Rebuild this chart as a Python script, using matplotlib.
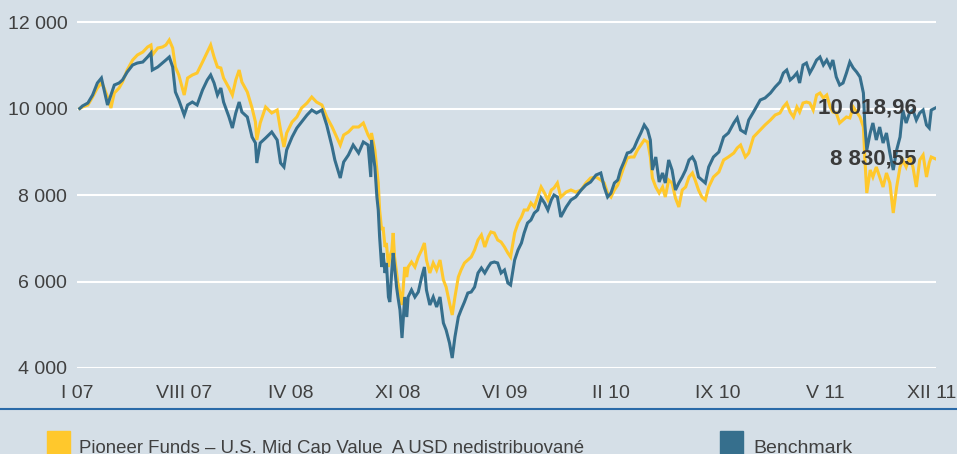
import numpy as np
import matplotlib
matplotlib.use("Agg")
import matplotlib.pyplot as plt
from matplotlib.patches import Rectangle

plt.rcParams['font.family'] = ['Liberation Sans', 'DejaVu Sans']

# trading day index (0 = start of Jan 2007, end = Dec 2011)
days = [0, 4, 12, 19, 26, 32, 36, 41, 46, 51, 58, 63, 70, 78, 85, 93, 100, 105, 107, 115,
        122, 127, 132, 137, 141, 146, 154, 159, 166, 173, 181, 188, 193, 198, 203, 208, 212, 220, 225, 230,
        235, 239, 247, 254, 259, 261, 266, 274, 283, 291, 296, 301, 305, 313, 320, 327, 335, 342, 349, 357,
        364, 372, 376, 384, 389, 396, 403, 411, 418, 425, 429,
        430, 435, 438, 440, 442, 445, 447, 450, 452, 455, 457, 460, 462, 464, 467, 469, 472, 475, 479, 482,
        484, 489, 494, 499, 504, 508, 511, 516, 521, 526, 531, 536, 540, 545, 549, 553, 558, 562, 567, 572,
        577, 582, 587, 592, 597, 602, 606, 611, 616, 621, 626, 631, 635, 641, 646, 651, 655, 660, 665, 670,
        675, 680, 685, 690, 695, 699, 704, 709,
        717, 724, 731, 739, 746, 753, 761, 768, 773, 778, 783, 788, 793, 797, 802, 807, 812, 817, 822, 827,
        832, 837, 841, 844, 849, 854, 859, 863, 868, 873, 878, 883, 888, 893, 898, 903, 907, 912, 917, 922,
        927, 934, 942, 949, 956, 964, 969, 974, 981, 986, 993,
        1003, 1010, 1018, 1025, 1032, 1037, 1042, 1047, 1052, 1057, 1061, 1066, 1071, 1076, 1081, 1086, 1091,
        1096, 1101, 1106, 1110, 1115, 1120, 1125, 1130, 1135, 1140, 1145, 1150, 1155, 1157, 1160, 1165, 1169,
        1174, 1179, 1184, 1189, 1194, 1199, 1204, 1209, 1213, 1218, 1223, 1228, 1233, 1238, 1243, 1248,
        1252, 1255, 1262]

fund = [10000, 10035, 10081, 10266, 10474, 10590, 10474, 10266, 10012, 10358,
        10474, 10613, 10890, 11121, 11237, 11306, 11422, 11468, 11237, 11399,
        11422, 11468, 11584, 11399, 10960, 10775, 10312, 10705, 10775, 10821,
        11075, 11306, 11468, 11191, 10960, 10937, 10705, 10474, 10312, 10659,
        10890, 10613, 10382, 10012, 9688, 9272, 9665, 10035, 9896, 9965,
        9503, 9110, 9434, 9688, 9804, 10012, 10127, 10266, 10150, 10081,
        9804, 9572, 9434, 9156, 9387, 9457, 9572, 9572, 9665, 9387, 9272,
        9434, 9041, 8578, 8278, 7653, 7191, 7260, 6798, 6890, 6335,
        6567, 6729, 7122, 6567, 6197, 5966, 5734, 5457, 6335, 6104,
        6335, 6451, 6335, 6567, 6729, 6890, 6497, 6197, 6428, 6266,
        6497, 6035, 5873, 5503, 5226, 5642, 6104, 6266, 6428, 6497,
        6567, 6729, 6960, 7075, 6798, 7029, 7145, 7122, 6960, 6913,
        6798, 6659, 6567, 7122, 7353, 7492, 7653, 7653, 7815, 7723,
        7954, 8185, 8046, 7885, 8116, 8162, 8278, 7954,
        8069, 8116, 8069, 8116, 8278, 8393, 8416, 8347, 8278, 8046,
        7954, 8116, 8231, 8416, 8648, 8856, 8879, 8879, 9041, 9156,
        9272, 9226, 8879, 8393, 8185, 8046, 8185, 7954, 8347, 8278,
        7931, 7723, 8116, 8185, 8416, 8509, 8347, 8116, 7954, 7885,
        8185, 8416, 8532, 8810, 8879, 8971, 9087, 9156, 8879, 8971, 9341,
        9503, 9619, 9734, 9850, 9896, 10035, 10127, 9919, 9804, 10035,
        9919, 10127, 10150, 10127, 9965, 10312, 10358, 10243, 10312, 10035,
        9919, 9896, 9665, 9734, 9804, 9781, 10035, 9919, 9804, 9572,
        8879, 8046, 8578, 8416, 8648, 8416, 8185, 8509, 8278, 7584,
        8185, 8648, 8810, 8648, 8879, 8648, 8185, 8810, 8925, 8416,
        8740, 8879, 8830.55]

bench = [10000, 10058, 10127, 10312, 10590, 10705, 10428, 10081, 10312, 10543,
         10590, 10659, 10844, 11006, 11052, 11075, 11191, 11283, 10890, 10960,
         11052, 11121, 11191, 10960, 10382, 10197, 9850, 10081, 10150, 10081,
         10428, 10659, 10775, 10590, 10312, 10474, 10150, 9804, 9549, 9896,
         10150, 9919, 9804, 9341, 9202, 8740, 9202, 9318, 9457, 9272,
         8740, 8648, 9041, 9341, 9549, 9688, 9850, 9965, 9896, 9965,
         9619, 9110, 8810, 8393, 8763, 8925, 9156, 8971, 9226, 9156, 8416,
         9272, 8648, 7954, 7653, 7029, 6335, 6659, 6197, 6428, 5642,
         5526, 6266, 6659, 6335, 5873, 5642, 5341, 4694, 5642, 5179,
         5642, 5804, 5642, 5758, 6104, 6335, 5804, 5457, 5642, 5411,
         5642, 5040, 4879, 4578, 4231, 4717, 5179, 5341, 5526, 5734,
         5758, 5873, 6197, 6312, 6197, 6335, 6428, 6451, 6428, 6197,
         6266, 5966, 5919, 6497, 6729, 6890, 7122, 7353, 7422, 7584,
         7653, 7931, 7815, 7653, 7885, 8000, 7954, 7492,
         7723, 7885, 7954, 8116, 8231, 8301, 8463, 8509, 8185, 7954,
         8046, 8278, 8347, 8578, 8763, 8971, 8995, 9087, 9272, 9434,
         9619, 9503, 9272, 8578, 8879, 8301, 8509, 8278, 8810, 8578,
         8116, 8278, 8416, 8578, 8810, 8879, 8763, 8416, 8347, 8278,
         8648, 8879, 8995, 9341, 9434, 9665, 9781, 9503, 9434, 9734, 9919,
         10197, 10243, 10358, 10497, 10613, 10821, 10890, 10659, 10729, 10821,
         10590, 11006, 11052, 10821, 10960, 11121, 11191, 11006, 11121, 10960,
         11121, 10729, 10543, 10590, 10821, 11075, 10937, 10844, 10729, 10358,
         9665, 9041, 9434, 9665, 9272, 9572, 9202, 9434, 8971, 8578,
         9041, 9341, 9965, 9665, 9896, 9965, 9734, 9896, 9965, 9619,
         9549, 9965, 10018.96]

tick_labels = ["I 07", "VIII 07", "IV 08", "XI 08", "VI 09", "II 10", "IX 10", "V 11", "XII 11"]
fund_name = "Pioneer Funds – U.S. Mid Cap Value  A USD nedistribuované"
bench_name = "Benchmark"

bg = "#d5dfe7"
yellow = "#ffc82c"
blue = "#366f8d"
txt = "#404040"

fig = plt.figure(figsize=(9.57, 4.54), dpi=100, facecolor=bg)
ax = fig.add_axes([77 / 957, 86 / 454, 859 / 957, 368 / 454])
ax.set_facecolor(bg)

ax.plot(days, fund, color=yellow, lw=2.2, solid_joinstyle='miter')
ax.plot(days, bench, color=blue, lw=2.2, solid_joinstyle='miter')

ax.set_xlim(0, days[-1])
ax.set_ylim(4000, 12509)
ax.set_yticks([4000, 6000, 8000, 10000, 12000])
ax.yaxis.set_major_formatter(plt.FuncFormatter(lambda v, p: f"{int(v):,}".replace(",", " ")))
ax.set_xticks(np.linspace(-4, days[-1] - 6, len(tick_labels)))
ax.set_xticklabels(tick_labels)
ax.tick_params(axis='both', length=0, labelsize=14, colors=txt)
ax.tick_params(axis='y', pad=7)
ax.tick_params(axis='x', pad=12)
ax.grid(axis='y', color='white', lw=1.5)
ax.set_axisbelow(True)
for s in ax.spines.values():
    s.set_visible(False)

# end values
ax.annotate("10 018,96", xy=(days[-1], bench[-1]), xytext=(-19, 0), textcoords='offset pixels',
            ha='right', va='center', fontsize=16, fontweight='bold', color="#3a3a3a")
ax.annotate("8 830,55", xy=(days[-1], fund[-1]), xytext=(-20, 0), textcoords='offset pixels',
            ha='right', va='center', fontsize=16, fontweight='bold', color="#3a3a3a")

# separator line and legend
fig.add_artist(plt.Line2D([0, 1], [45 / 454, 45 / 454], color="#2a6aa8", lw=1.5))
fig.add_artist(Rectangle((47 / 957, 0), 23 / 957, 23 / 454, color=yellow, transform=fig.transFigure))
fig.text(79 / 957, 1 / 454, fund_name, fontsize=13.4, color=txt, va='baseline')
fig.add_artist(Rectangle((720 / 957, 0), 23 / 957, 23 / 454, color=blue, transform=fig.transFigure))
fig.text(753 / 957, 1 / 454, bench_name, fontsize=14, color=txt, va='baseline')

fig.savefig("out.png", dpi=100, facecolor=bg)
